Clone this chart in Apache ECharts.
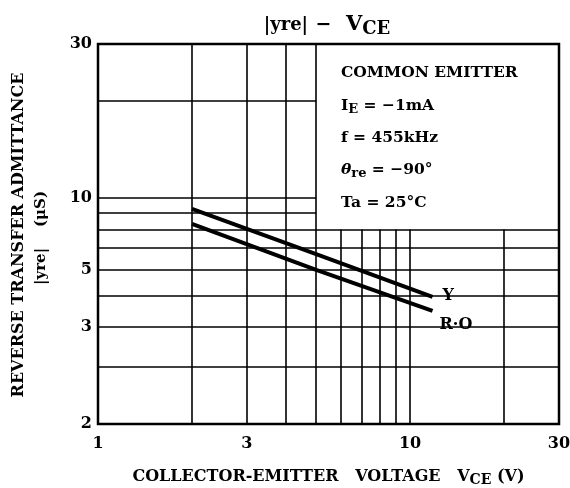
<!DOCTYPE html>
<html>
<head>
<meta charset="utf-8">
<script src="https://cdn.jsdelivr.net/npm/echarts@6/dist/echarts.min.js"></script>
<style>
  html, body { margin: 0; background: #fff; }
  #chart { width: 570px; height: 488px; }
</style>
</head>
<body>
<div id="chart"></div>
<script>
// |yre| - VCE
var vce = [2, 5, 11.8];
var yreY = [9.26, 6.71, 4.95];
var yreRO = [8.32, 6.0, 4.48];
var seriesNames = ['Y', 'R·O'];

// axis ticks (the printed y labels sit on the 4 and 6 grid lines)
var xTicks = [1, 3, 10, 30];
var yTicks = [2, 4, 6, 10, 30];
var yTickLabels = ['2', '3', '5', '10', '30'];

// log grid lines
var gridX = [2, 3, 4, 5, 6, 7, 8, 9, 10, 20];
var gridY = [3, 4, 5, 6, 7, 8, 9, 10, 20];

var FONT = 'DejaVu Serif';

var chartDom = document.getElementById('chart');
var myChart = echarts.init(chartDom);

// grid lines stop at the box with the test conditions (x > 5, y > 8)
var gridLines = [];
gridX.forEach(function (x) {
  gridLines.push([{ coord: [x, 2] }, { coord: [x, x <= 5 ? 30 : 8] }]);
});
gridY.forEach(function (y) {
  gridLines.push([{ coord: [1, y] }, { coord: [y > 8 ? 5 : 30, y] }]);
});

function pairs(xs, ys) {
  return xs.map(function (x, i) { return [x, ys[i]]; });
}

var sub = function (size, down) {
  return { fontFamily: FONT, fontWeight: 'bold', fontSize: size, padding: [down, 0, 0, 0] };
};

// text in the box, one line each
var boxLines = [
  { text: 'COMMON EMITTER', y: 73 },
  { text: 'I{s|E} = −1mA', y: 106 },
  { text: 'f = 455kHz', y: 138 },
  { text: '{i|θ}{s|re} = −90°', y: 170 },
  { text: 'Ta = 25°C', y: 203 }
];

var option = {
  animation: false,
  backgroundColor: '#fff',
  textStyle: { fontFamily: FONT, fontWeight: 'bold', color: '#000' },
  grid: {
    left: 98, right: 11, top: 44, bottom: 64,
    outerBoundsMode: 'none',
    containLabel: false,
    show: true, borderColor: '#000', borderWidth: 2.5
  },
  xAxis: {
    type: 'log', min: 1, max: 30,
    axisLine: { show: false },
    axisTick: { show: false },
    splitLine: { show: false },
    axisLabel: {
      customValues: xTicks,
      fontFamily: FONT, fontWeight: 'bold', fontSize: 16, color: '#000', margin: 12
    },
    name: 'COLLECTOR-EMITTER   VOLTAGE   V{s|CE} (V)',
    nameLocation: 'middle',
    nameGap: 42,
    nameTextStyle: {
      fontFamily: FONT, fontWeight: 'bold', fontSize: 16, color: '#000',
      rich: { s: sub(14, 7) }
    }
  },
  yAxis: {
    type: 'log', min: 2, max: 30,
    axisLine: { show: false },
    axisTick: { show: false },
    splitLine: { show: false },
    axisLabel: {
      customValues: yTicks,
      formatter: function (v) {
        var i = yTicks.indexOf(Math.round(v));
        return i >= 0 ? yTickLabels[i] : '';
      },
      fontFamily: FONT, fontWeight: 'bold', fontSize: 16, color: '#000', margin: 6
    }
  },
  graphic: [
    {
      type: 'text', x: 327, y: 25,
      style: {
        text: '{a||yre|} {b|−}  V{s|CE}',
        font: 'bold 21px "DejaVu Serif"', fill: '#000',
        align: 'center', verticalAlign: 'middle',
        rich: {
          a: { fontFamily: FONT, fontWeight: 'bold', fontSize: 18 },
          b: { fontFamily: FONT, fontWeight: 'bold', fontSize: 19 },
          s: sub(18, 8)
        }
      }
    },
    {
      type: 'text', x: 19, y: 235, rotation: Math.PI / 2,
      style: {
        text: 'REVERSE TRANSFER ADMITTANCE',
        font: 'bold 16px "DejaVu Serif"', fill: '#000',
        align: 'center', verticalAlign: 'middle'
      }
    },
    {
      type: 'text', x: 41, y: 238, rotation: Math.PI / 2,
      style: {
        text: '|yre|    (μS)',
        font: 'bold 15px "DejaVu Serif"', fill: '#000',
        align: 'center', verticalAlign: 'middle'
      }
    }
  ].concat(boxLines.map(function (l) {
    return {
      type: 'text', x: 341, y: l.y,
      style: {
        text: l.text, font: 'bold 15.5px "DejaVu Serif"', fill: '#000',
        verticalAlign: 'middle',
        rich: {
          i: { fontFamily: FONT, fontWeight: 'bold', fontStyle: 'italic', fontSize: 15.5 },
          s: sub(13, 8)
        }
      }
    };
  })),
  series: [
    {
      // grid
      type: 'line', z: 1, data: [], silent: true,
      markLine: {
        silent: true, symbol: ['none', 'none'],
        label: { show: false },
        lineStyle: { color: '#000', width: 1.6, type: 'solid' },
        data: gridLines
      }
    },
    {
      name: seriesNames[0], type: 'line', z: 3,
      data: pairs(vce, yreY),
      symbol: 'none',
      lineStyle: { color: '#000', width: 4 },
      endLabel: {
        show: true, formatter: seriesNames[0], distance: 6, offset: [0, -1],
        fontFamily: FONT, fontWeight: 'bold', fontSize: 16, color: '#000',
        backgroundColor: '#fff', padding: [0, 6, 0, 4]
      }
    },
    {
      name: seriesNames[1], type: 'line', z: 3,
      data: pairs(vce, yreRO),
      symbol: 'none',
      lineStyle: { color: '#000', width: 4 },
      endLabel: {
        show: true, formatter: seriesNames[1], distance: 4, offset: [0, 14],
        fontFamily: FONT, fontWeight: 'bold', fontSize: 16, color: '#000',
        backgroundColor: '#fff', padding: [0, 5, 0, 3]
      }
    }
  ]
};

option && myChart.setOption(option);
</script>
</body>
</html>
